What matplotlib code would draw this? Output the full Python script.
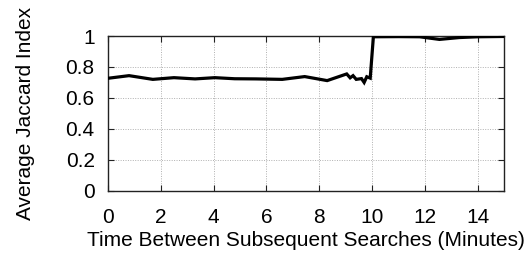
import matplotlib
matplotlib.use('Agg')
import matplotlib.pyplot as plt

plt.rcParams['font.family'] = ['Liberation Sans', 'DejaVu Sans']

# time between searches (minutes) and average Jaccard index
minutes = [0.0, 0.8, 1.7, 2.5, 3.3, 4.05, 4.8, 5.6, 6.6, 7.45, 8.3, 9.04, 9.17, 9.28, 9.4,
           9.6, 9.7, 9.8, 9.93, 10.05, 11.0, 11.8, 12.55, 13.3, 14.0, 15.0]
jaccard = [0.727, 0.744, 0.72, 0.731, 0.723, 0.731, 0.724, 0.723, 0.72, 0.738, 0.712, 0.755, 0.73, 0.744, 0.72,
           0.725, 0.70, 0.737, 0.728, 0.995, 0.996, 0.995, 0.978, 0.99, 0.995, 0.997]

xticks = [0, 2, 4, 6, 8, 10, 12, 14]
yticks = [0, 0.2, 0.4, 0.6, 0.8, 1]
ytick_labels = ['0', '0.2', '0.4', '0.6', '0.8', '1']

fig = plt.figure(figsize=(5.29, 2.59), dpi=100)
ax = fig.add_axes([0.204, 0.263, 0.749, 0.598])

ax.plot(minutes, jaccard, color='black', lw=2.3, solid_joinstyle='miter', zorder=3)

ax.set_xlim(0, 15)
ax.set_ylim(0, 1)
ax.set_xticks(xticks)
ax.set_yticks(yticks)
ax.set_yticklabels(ytick_labels)
ax.grid(True, color='#b0b0b0', linestyle=(0, (1, 1.5)), lw=0.7)
ax.tick_params(direction='in', top=True, right=True, length=4, width=0.8,
               labelsize=15, color='#222222')
ax.tick_params(axis='x', pad=12)
ax.tick_params(axis='y', pad=9.5)
for s in ax.spines.values():
    s.set_linewidth(1.0)
    s.set_color('#222222')

ax.set_xlabel('Time Between Subsequent Searches (Minutes)', fontsize=15, labelpad=3)
ax.set_ylabel('Average Jaccard Index', fontsize=15, labelpad=22)

fig.savefig('out.png', dpi=100)
